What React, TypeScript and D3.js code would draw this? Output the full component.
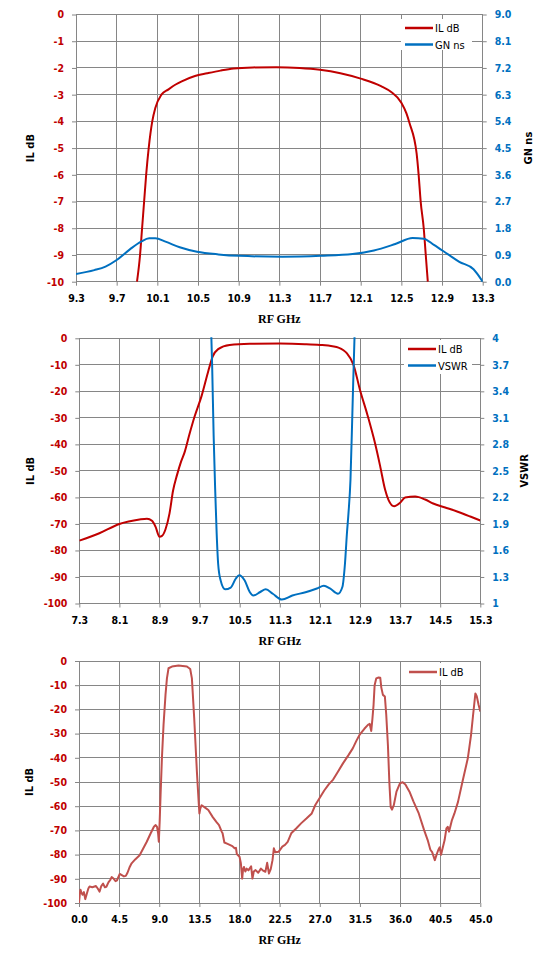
import React, { useEffect, useRef } from "react";
import * as d3 from "d3";

type Pt = [number, number];

// ---- top chart: IL dB + group delay
const topXTicks = [9.3, 9.7, 10.1, 10.5, 10.9, 11.3, 11.7, 12.1, 12.5, 12.9, 13.3];
const topYTicks = [0, -1, -2, -3, -4, -5, -6, -7, -8, -9, -10];
const topY2Ticks = [0, 0.9, 1.8, 2.7, 3.6, 4.5, 5.4, 6.3, 7.2, 8.1, 9.0];

const topIL: Pt[] = [
  [9.9, -10], [9.93, -9], [9.95, -8], [9.97, -7], [9.99, -6], [10.015, -5],
  [10.05, -4], [10.08, -3.5], [10.14, -3], [10.21, -2.8], [10.28, -2.62],
  [10.34, -2.5], [10.47, -2.3], [10.59, -2.2], [10.72, -2.1], [10.85, -2.02],
  [11.04, -1.98], [11.27, -1.97], [11.5, -2.0], [11.7, -2.07], [11.9, -2.2],
  [12.1, -2.4], [12.3, -2.68], [12.4, -2.9], [12.5, -3.3], [12.55, -3.7],
  [12.58, -4.06], [12.65, -5.2], [12.67, -6], [12.69, -7], [12.72, -8],
  [12.74, -9], [12.76, -10],
];

const topGD: Pt[] = [
  [9.3, 0.26], [9.48, 0.39], [9.59, 0.51], [9.7, 0.73], [9.83, 1.09],
  [9.94, 1.35], [10.02, 1.46], [10.08, 1.46], [10.18, 1.35], [10.32, 1.16],
  [10.49, 1.01], [10.7, 0.92], [10.91, 0.87], [11.33, 0.84], [11.71, 0.87],
  [12.02, 0.93], [12.23, 1.05], [12.44, 1.27], [12.61, 1.47], [12.72, 1.45],
  [12.82, 1.24], [12.96, 0.92], [13.07, 0.67], [13.21, 0.42], [13.3, 0.0],
];

// ---- middle chart: IL dB + VSWR
const midXTicks = [7.3, 8.1, 8.9, 9.7, 10.5, 11.3, 12.1, 12.9, 13.7, 14.5, 15.3];
const midYTicks = [0, -10, -20, -30, -40, -50, -60, -70, -80, -90, -100];
const midY2Ticks = [1, 1.3, 1.6, 1.9, 2.2, 2.5, 2.8, 3.1, 3.4, 3.7, 4];

const midIL: Pt[] = [
  [7.3, -76.3], [7.7, -73.5], [8.1, -70], [8.5, -68.3], [8.65, -68], [8.75, -68.8],
  [8.82, -71], [8.9, -74.8], [8.95, -74.5], [9.02, -72], [9.1, -66], [9.17, -57.5],
  [9.25, -51.5], [9.33, -46.5], [9.4, -43], [9.5, -36], [9.6, -29.5], [9.74, -21.7],
  [9.87, -12.6], [9.96, -6.9], [10.07, -4.1], [10.3, -2.5], [10.7, -2.1], [11.3, -2.0],
  [11.8, -2.2], [12.1, -2.5], [12.35, -3], [12.47, -3.5], [12.57, -4.5], [12.64, -5.7],
  [12.77, -10], [12.9, -19.5], [13.05, -29], [13.2, -39.6], [13.3, -48], [13.4, -57],
  [13.47, -61], [13.58, -63.3], [13.7, -62], [13.8, -60], [14.0, -59.7], [14.2, -60.8],
  [14.36, -62.3], [14.6, -63.8], [14.85, -65.4], [15.1, -67.2], [15.3, -68.7],
];

const midVSWR: Pt[] = [
  [9.92, 4.3], [9.95, 3.7], [9.98, 2.9], [10.01, 2.3], [10.04, 1.8], [10.07, 1.45],
  [10.12, 1.26], [10.21, 1.16], [10.32, 1.18], [10.42, 1.28], [10.49, 1.32],
  [10.6, 1.26], [10.7, 1.13], [10.77, 1.09], [10.91, 1.13], [11.02, 1.16],
  [11.16, 1.11], [11.34, 1.045], [11.55, 1.09], [11.83, 1.13], [12.04, 1.17],
  [12.18, 1.2], [12.3, 1.17], [12.46, 1.11], [12.55, 1.19], [12.6, 1.45],
  [12.64, 1.8], [12.67, 2.02], [12.71, 2.4], [12.75, 3.2], [12.79, 4.0], [12.82, 4.4],
];

// ---- bottom chart: wideband IL dB
const botXTicks = [0, 4.5, 9, 13.5, 18, 22.5, 27, 31.5, 36, 40.5, 45];
const botYTicks = [0, -10, -20, -30, -40, -50, -60, -70, -80, -90, -100];

const botIL: Pt[] = [
  [0, -100], [0.1, -96], [0.16, -94.5], [0.3, -96], [0.4, -96.6], [0.55, -95.5],
  [0.7, -98.4], [0.9, -95.9], [1.05, -94], [1.18, -93.2], [1.5, -93.5], [1.9, -93],
  [2.1, -94], [2.3, -95.3], [2.5, -93], [2.7, -92], [2.9, -93.5], [3.07, -93.3],
  [3.3, -91.5], [3.5, -90.5], [3.66, -89.3], [3.9, -90], [4.1, -91], [4.25, -90.7],
  [4.57, -88], [4.8, -88.5], [5.04, -89], [5.25, -88.8], [5.44, -87.5], [5.7, -85],
  [5.9, -83.6], [6.3, -82], [6.8, -80.3], [7.2, -77.5], [7.6, -74.7], [8.0, -71.5],
  [8.4, -68.5], [8.6, -67.8], [8.75, -68.5], [8.87, -71.2], [8.95, -74.7], [9.05, -66],
  [9.15, -55], [9.3, -40], [9.48, -26.4], [9.7, -14], [9.86, -7.2], [10.04, -3.0],
  [10.42, -2.3], [11.16, -1.9], [12.1, -2.3], [12.47, -3.3], [12.66, -7.2],
  [12.92, -23.7], [13.22, -45.7], [13.44, -59.5], [13.5, -63], [13.6, -61],
  [13.75, -59.6], [14.1, -60.5], [14.5, -61.6], [15.0, -64.5], [15.4, -66.5],
  [15.7, -67.8], [16.0, -70.5], [16.1, -71.2], [16.3, -75], [16.6, -75.5], [16.9, -76],
  [17.2, -76.5], [17.45, -77.4], [17.6, -77.2], [17.7, -79.8], [18.0, -80.9],
  [18.15, -83.6], [18.3, -89.9], [18.4, -86], [18.5, -85.1], [18.65, -87], [18.8, -85.8],
  [19.0, -86.5], [19.3, -84.8], [19.45, -89.9], [19.6, -87], [19.8, -86.4], [20.1, -87.5],
  [20.4, -85.8], [20.6, -86.5], [20.9, -87.1], [21.1, -83.4], [21.3, -87.8], [21.5, -86],
  [21.7, -82.3], [21.85, -77.4], [22.0, -79], [22.4, -78.8], [22.8, -76.7], [23.1, -76],
  [23.4, -74.7], [23.6, -73], [23.8, -71.2], [24.35, -69.2], [24.9, -67.1], [25.5, -65.1],
  [26.1, -63], [26.5, -59.5], [27.0, -56.5], [27.5, -53.5], [28.0, -51], [28.5, -49],
  [29.0, -46], [29.6, -42.3], [30.2, -39], [30.7, -36.1], [31.1, -33], [31.5, -30.3],
  [32.0, -28], [32.4, -26.4], [32.6, -26], [32.77, -28.9], [32.9, -24], [33.03, -18.2],
  [33.15, -10], [33.33, -7.2], [33.6, -6.8], [33.78, -6.9], [33.9, -11], [34.08, -14],
  [34.3, -14.7], [34.45, -22], [34.64, -34.7], [34.8, -50], [34.95, -60.3], [35.1, -61.4],
  [35.3, -59.6], [35.6, -54], [36.0, -50.5], [36.3, -50.1], [36.6, -51], [37.06, -54],
  [37.5, -58], [38.1, -63], [38.7, -69.9], [39.1, -74], [39.4, -78], [39.6, -79],
  [39.9, -82.3], [40.1, -80], [40.3, -78], [40.45, -77], [40.6, -80.1], [40.8, -77],
  [41.0, -74], [41.2, -69.2], [41.35, -68.5], [41.5, -70.5], [41.8, -66], [42.1, -63],
  [42.5, -58.2], [43.0, -49.9], [43.6, -40.2], [43.96, -30.6], [44.2, -22], [44.45, -13.4],
  [44.6, -14.5], [44.8, -18], [45.0, -20.9],
];

const RED = "#c00000";
const BLUE = "#0070c0";
const BROWN = "#c0504d";
const GRID = "#868686";
const FONT = "'DejaVu Sans Condensed', 'DejaVu Sans', sans-serif";

interface Series {
  data: Pt[];
  color: string;
  right?: boolean;
  smooth?: boolean;
  label: string;
}

interface PanelProps {
  id: string;
  l: number;
  r: number;
  t: number;
  b: number;
  xDomain: [number, number];
  xTicks: number[];
  yDomain: [number, number];
  yTicks: number[];
  y2Domain?: [number, number];
  y2Ticks?: number[];
  y2Fmt?: (d: number) => string;
  leftTitle: string;
  rightTitle?: string;
  leftTitleX: number;
  rightTitleX?: number;
  series: Series[];
  legend: { x: number; y: number; w: number; h: number };
}

const Panel = (p: PanelProps) => {
  const xEl = useRef<SVGGElement>(null);
  const yEl = useRef<SVGGElement>(null);
  const y2El = useRef<SVGGElement>(null);

  const x = d3.scaleLinear().domain(p.xDomain).range([p.l, p.r]);
  const y = d3.scaleLinear().domain(p.yDomain).range([p.b, p.t]);
  const y2 = p.y2Domain ? d3.scaleLinear().domain(p.y2Domain).range([p.b, p.t]) : null;

  useEffect(() => {
    const style = (g: d3.Selection<SVGGElement, unknown, null, undefined>, fill: string) => {
      g.attr("font-family", FONT).attr("font-size", 10.5).attr("font-weight", "bold");
      g.select(".domain").remove();
      g.selectAll(".tick line").attr("stroke", GRID);
      g.selectAll(".tick text").attr("fill", fill);
    };
    const gx = d3.select(xEl.current!);
    gx.call(
      d3.axisBottom(x).tickValues(p.xTicks).tickSize(4).tickPadding(9)
        .tickFormat((d) => (d as number).toFixed(1)) as any
    );
    style(gx, "#000");
    const gy = d3.select(yEl.current!);
    gy.call(d3.axisLeft(y).tickValues(p.yTicks).tickSize(4).tickPadding(8)
      .tickFormat((d) => String(d)) as any);
    style(gy, RED);
    if (y2 && y2El.current) {
      const g2 = d3.select(y2El.current);
      g2.call(d3.axisRight(y2).tickValues(p.y2Ticks!).tickSize(4).tickPadding(8)
        .tickFormat((d) => (p.y2Fmt ? p.y2Fmt(d as number) : String(d))) as any);
      style(g2, BLUE);
    }
  });

  const cx = (p.l + p.r) / 2;
  const cy = (p.t + p.b) / 2;
  const clipId = `clip-${p.id}`;

  return (
    <g>
      <defs>
        <clipPath id={clipId}>
          <rect x={p.l} y={p.t - 1} width={p.r - p.l} height={p.b - p.t + 2} />
        </clipPath>
      </defs>
      <g stroke={GRID} strokeWidth={1} shapeRendering="crispEdges">
        {p.xTicks.map((d) => (
          <line key={`gx${d}`} x1={x(d)} x2={x(d)} y1={p.t} y2={p.b} />
        ))}
        {p.yTicks.map((d) => (
          <line key={`gy${d}`} x1={p.l} x2={p.r} y1={y(d)} y2={y(d)} />
        ))}
      </g>
      <g ref={xEl} transform={`translate(0,${p.b})`} />
      <g ref={yEl} transform={`translate(${p.l},0)`} />
      {y2 && <g ref={y2El} transform={`translate(${p.r},0)`} />}
      <g clipPath={`url(#${clipId})`}>
        {p.series.map((s, i) => {
          const ys = s.right && y2 ? y2 : y;
          const line = d3
            .line<Pt>()
            .x((d) => x(d[0]))
            .y((d) => ys(d[1]))
            .curve(s.smooth ? d3.curveMonotoneX : d3.curveLinear);
          return (
            <path key={i} d={line(s.data) as string} fill="none" stroke={s.color}
              strokeWidth={2} strokeLinejoin="round" />
          );
        })}
      </g>
      <rect x={p.legend.x} y={p.legend.y} width={p.legend.w} height={p.legend.h} fill="#fff" />
      {p.series.map((s, i) => {
        const ly = p.legend.y + 9 + i * 16.5;
        return (
          <g key={`lg${i}`}>
            <line x1={p.legend.x + 4} x2={p.legend.x + 32} y1={ly} y2={ly}
              stroke={s.color} strokeWidth={2.5} />
            <text x={p.legend.x + 34} y={ly + 4} fontFamily={FONT} fontSize={11} fill="#000">
              {s.label}
            </text>
          </g>
        );
      })}
      <text transform={`translate(${p.leftTitleX},${cy}) rotate(-90)`} textAnchor="middle"
        fontFamily={FONT} fontSize={11} fontWeight="bold" fill="#000">
        {p.leftTitle}
      </text>
      {p.rightTitle && (
        <text transform={`translate(${p.rightTitleX},${cy}) rotate(-90)`} textAnchor="middle"
          fontFamily={FONT} fontSize={11} fontWeight="bold" fill="#000">
          {p.rightTitle}
        </text>
      )}
      <text x={cx} y={p.b + 41} textAnchor="middle" fontFamily="'Liberation Serif', serif"
        fontSize={12} fontWeight="bold" fill="#000">
        RF GHz
      </text>
    </g>
  );
};

const App = () => {
  return (
    <svg width={552} height={966} style={{ position: "absolute", left: 0, top: 0, background: "#fff" }}>
      <rect width={552} height={966} fill="#fff" />
      <Panel
        id="top" l={76} r={482.7} t={14.5} b={281.7}
        xDomain={[9.3, 13.3]} xTicks={topXTicks}
        yDomain={[-10, 0]} yTicks={topYTicks}
        y2Domain={[0, 9]} y2Ticks={topY2Ticks} y2Fmt={(d) => d.toFixed(1)}
        leftTitle="IL dB" rightTitle="GN ns" leftTitleX={34} rightTitleX={532}
        series={[
          { data: topIL, color: RED, smooth: true, label: "IL dB" },
          { data: topGD, color: BLUE, right: true, smooth: true, label: "GN ns" },
        ]}
        legend={{ x: 401, y: 19, w: 71, h: 31 }}
      />
      <Panel
        id="mid" l={79.3} r={480.3} t={338.3} b={603.5}
        xDomain={[7.3, 15.3]} xTicks={midXTicks}
        yDomain={[-100, 0]} yTicks={midYTicks}
        y2Domain={[1, 4]} y2Ticks={midY2Ticks}
        leftTitle="IL dB" rightTitle="VSWR" leftTitleX={34} rightTitleX={528}
        series={[
          { data: midIL, color: RED, smooth: true, label: "IL dB" },
          { data: midVSWR, color: BLUE, right: true, smooth: true, label: "VSWR" },
        ]}
        legend={{ x: 404, y: 340, w: 68, h: 34 }}
      />
      <Panel
        id="bot" l={79} r={480.3} t={661} b={903}
        xDomain={[0, 45]} xTicks={botXTicks}
        yDomain={[-100, 0]} yTicks={botYTicks}
        leftTitle="IL dB" leftTitleX={33}
        series={[{ data: botIL, color: BROWN, label: "IL dB" }]}
        legend={{ x: 405, y: 663, w: 66, h: 17 }}
      />
    </svg>
  );
};

export default App;
